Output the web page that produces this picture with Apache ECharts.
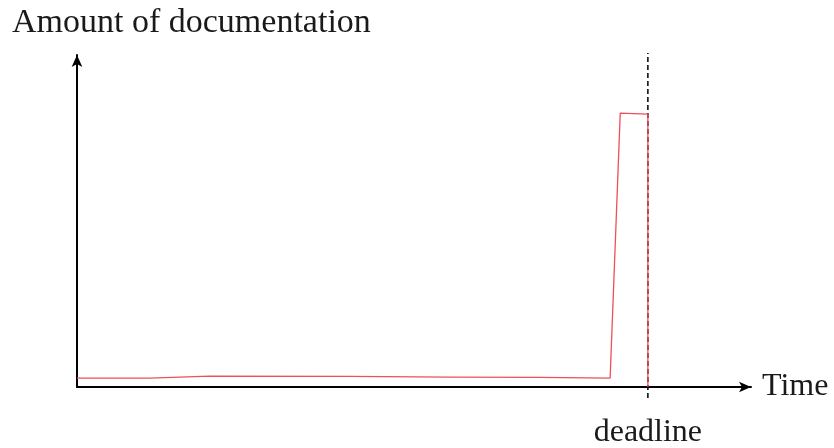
<!DOCTYPE html>
<html><head><meta charset="utf-8">
<script src="https://cdn.jsdelivr.net/npm/echarts@6/dist/echarts.min.js"></script>
<style>html,body{margin:0;padding:0;background:#fff}#c{width:834px;height:448px}</style>
</head><body><div id="c"></div>
<script>
// Data (time on x axis, documentation amount on y axis; arbitrary units 0-100)
const timeValues = [0, 10.8, 19.7, 40.5, 55.3, 68.7, 79.1, 80.6, 84.7, 84.7];
const docAmount  = [2.7, 2.7, 3.3, 3.2, 3.0, 2.9, 2.7, 82.5, 82.2, 0];
const deadlineTime = 84.7;
const deadlineSpan = [-3.3, 100.6];
const yTitle = 'Amount of documentation';
const xTitle = 'Time';
const deadlineLabel = 'deadline';

const font = 'Liberation Serif, Times New Roman, serif';
const chart = echarts.init(document.getElementById('c'));
chart.setOption({
  animation: false,
  backgroundColor: '#fff',
  title: {
    text: yTitle, left: 7, top: 1,
    textStyle: {fontFamily: font, fontSize: 34, fontWeight: 'normal', color: '#1a1a1a'}
  },
  grid: {left: 77, right: 83, top: 55, bottom: 61, outerBoundsMode: 'none', containLabel: false},
  xAxis: {
    type: 'value', min: 0, max: 100,
    name: xTitle, nameLocation: 'end', nameGap: 11,
    nameTextStyle: {fontFamily: font, fontSize: 32, color: '#1a1a1a', verticalAlign: 'middle'},
    axisLine: {lineStyle: {color: '#000', width: 2}, symbol: ['none', 'arrow'], symbolSize: [8, 12]},
    axisTick: {show: false},
    axisLabel: {show: true, customValues: [deadlineTime], formatter: () => deadlineLabel,
                margin: 30, fontFamily: font, fontSize: 32, color: '#1a1a1a'},
    splitLine: {show: false}
  },
  yAxis: {
    type: 'value', min: 0, max: 100,
    axisLine: {show: true, lineStyle: {color: '#000', width: 2}, symbol: ['none', 'arrow'], symbolSize: [8, 12]},
    axisTick: {show: false}, axisLabel: {show: false}, splitLine: {show: false}
  },
  series: [{
    type: 'line', name: 'deadline',
    data: deadlineSpan.map(v => [deadlineTime, v]),
    showSymbol: false, clip: false, silent: true,
    lineStyle: {color: '#000', width: 1.5, type: [5, 3]},
    z: 2
  }, {
    type: 'line', name: 'documentation',
    data: timeValues.map((t, i) => [t, docAmount[i]]),
    showSymbol: false, clip: false,
    lineStyle: {color: '#ee4f5a', width: 1.3},
    z: 3
  }]
});
</script></body></html>
